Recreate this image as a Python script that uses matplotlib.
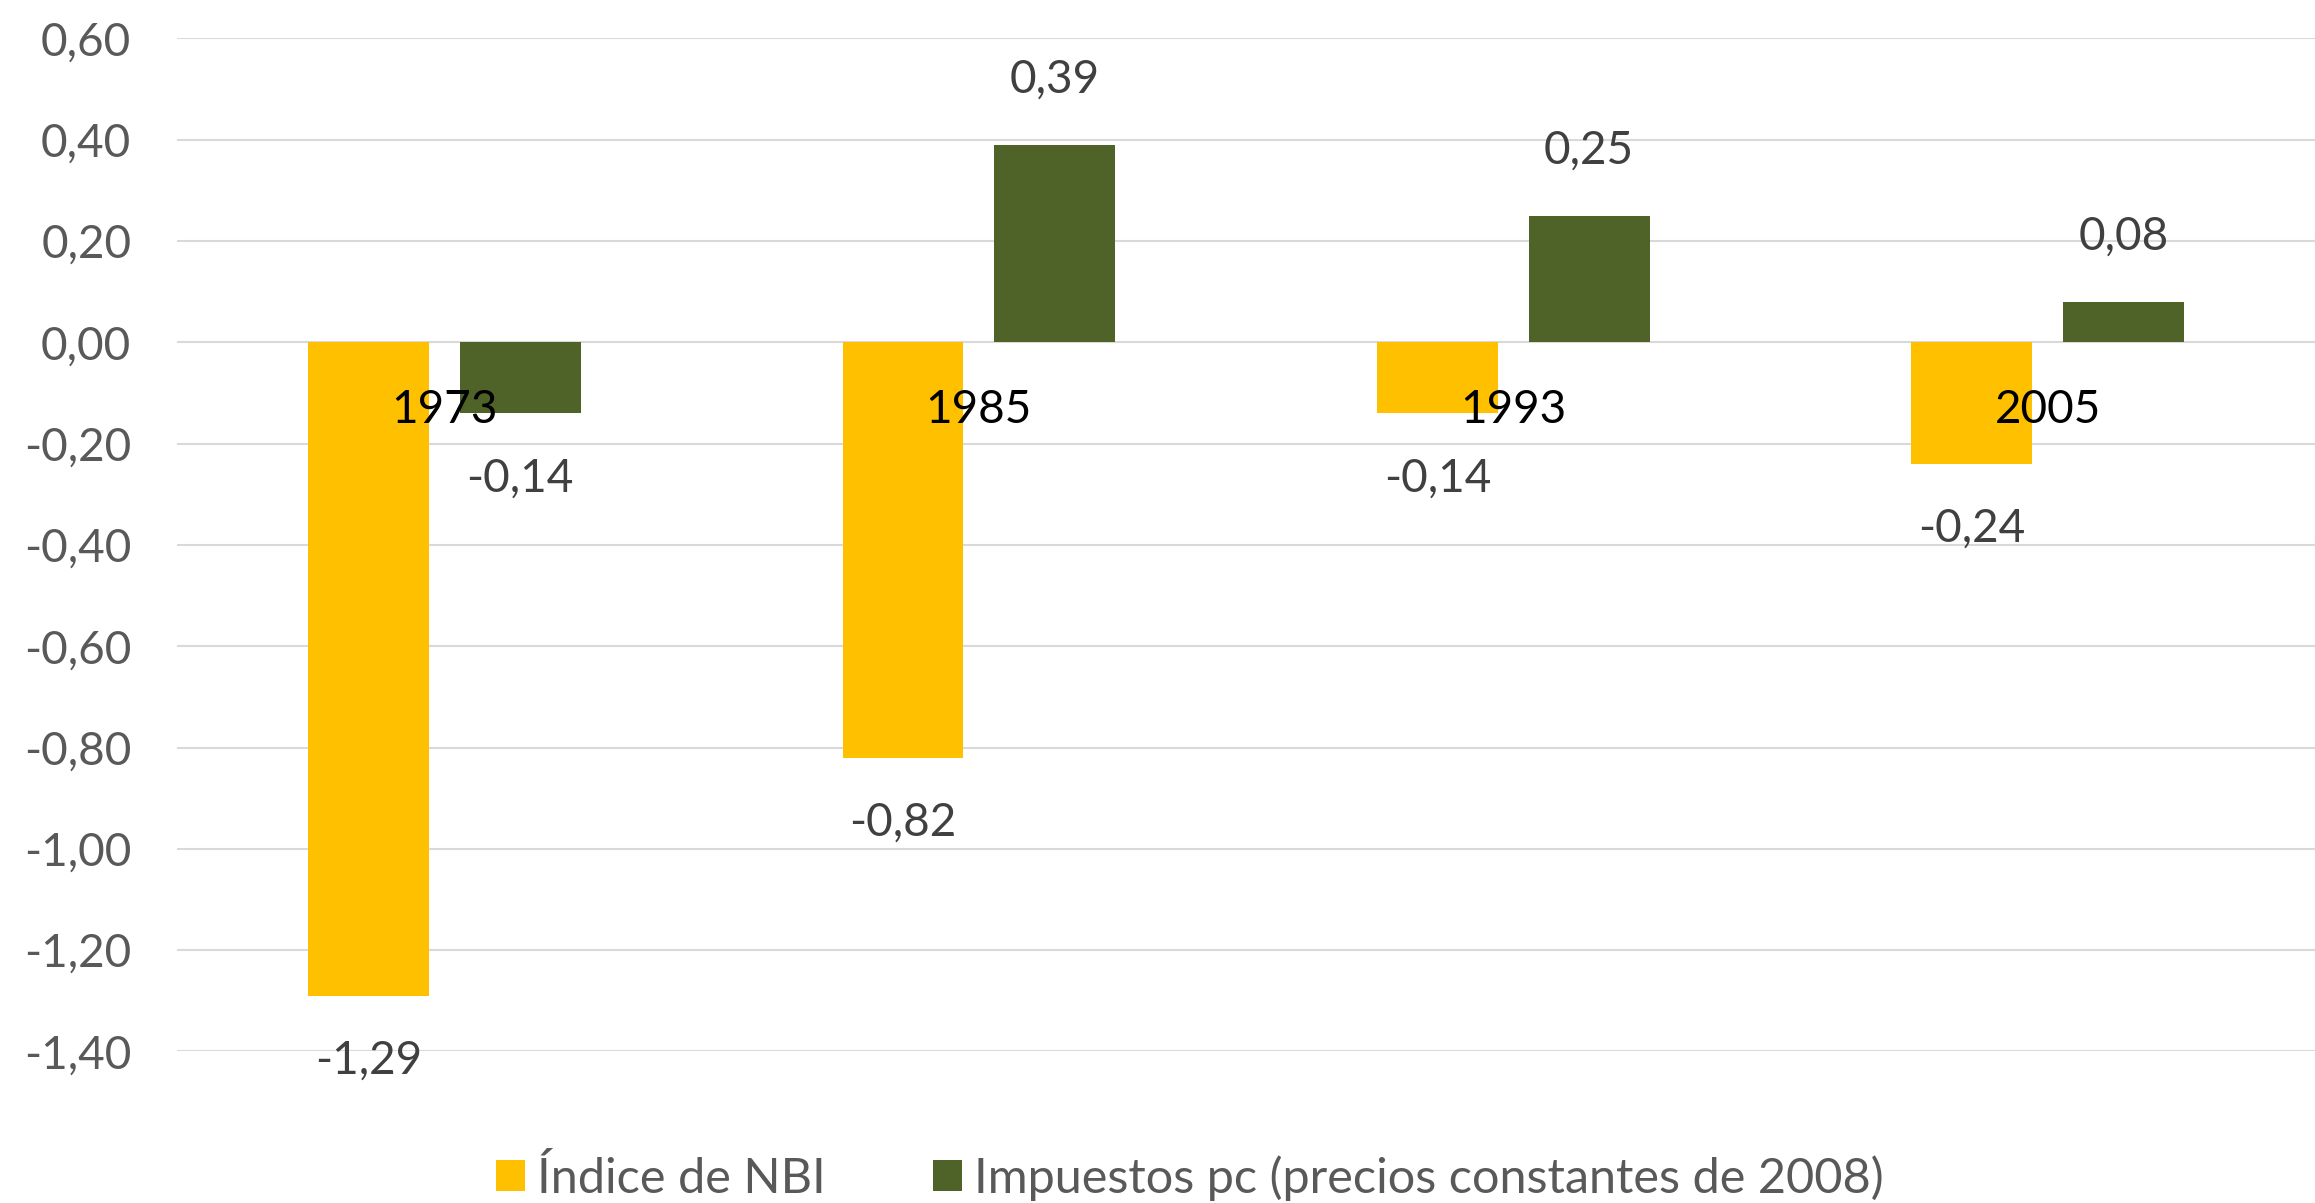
import matplotlib.pyplot as plt
import numpy as np

# data
years = ["1973", "1985", "1993", "2005"]
nbi = [-1.29, -0.82, -0.14, -0.24]
impuestos = [-0.14, 0.39, 0.25, 0.08]
series_names = ["Índice de NBI", "Impuestos pc (precios constantes de 2008)"]
yticks = [0.60, 0.40, 0.20, 0.00, -0.20, -0.40, -0.60, -0.80, -1.00, -1.20, -1.40]

YELLOW = "#FFC000"
GREEN = "#4F6228"

plt.rcParams['font.family'] = ['Lato', 'DejaVu Sans']


def fmt(v):
    return f"{v:.2f}".replace('.', ',')


fig = plt.figure(figsize=(23.15, 12.03), dpi=100)
ax = fig.add_axes([0.0765, 0.126, 0.9235, 0.842])

x = np.arange(len(years))
w = 0.226
off = 0.142
b1 = ax.bar(x - off, nbi, w, color=YELLOW, label=series_names[0], zorder=2)
b2 = ax.bar(x + off, impuestos, w, color=GREEN, label=series_names[1], zorder=2)

ax.set_xlim(-0.5, len(years) - 0.5)
ax.set_ylim(-1.40, 0.60)
ax.set_yticks(yticks)
ax.set_yticklabels([fmt(t) for t in yticks], fontsize=33, color="#595959")
ax.tick_params(axis='y', length=0, pad=33)
ax.set_xticks([])
ax.grid(axis='y', color="#D9D9D9", linewidth=1.5, zorder=0)
for s in ax.spines.values():
    s.set_visible(False)

# data labels
for bars, vals in ((b1, nbi), (b2, impuestos)):
    for bar, v in zip(bars, vals):
        cx = bar.get_x() + bar.get_width() / 2
        dy = 65 if v >= 0 else -65
        ax.annotate(fmt(v), (cx, v), xytext=(0, dy), textcoords='offset pixels',
                    ha='center', va='center', fontsize=33, color="#404040", zorder=4)

# category labels sit just under the zero line
for xi, yr in zip(x, years):
    ax.annotate(yr, (xi, 0), xytext=(0, -68), textcoords='offset pixels',
                ha='center', va='center', fontsize=33, color="black", zorder=5)

fig.legend(loc='center', bbox_to_anchor=(0.514, 0.021), ncol=2, frameon=False,
           fontsize=35, labelcolor="#595959", handlelength=0.6, handleheight=0.6,
           handletextpad=0.25, columnspacing=2.2)

fig.savefig("out.png", dpi=100)
plt.close()
